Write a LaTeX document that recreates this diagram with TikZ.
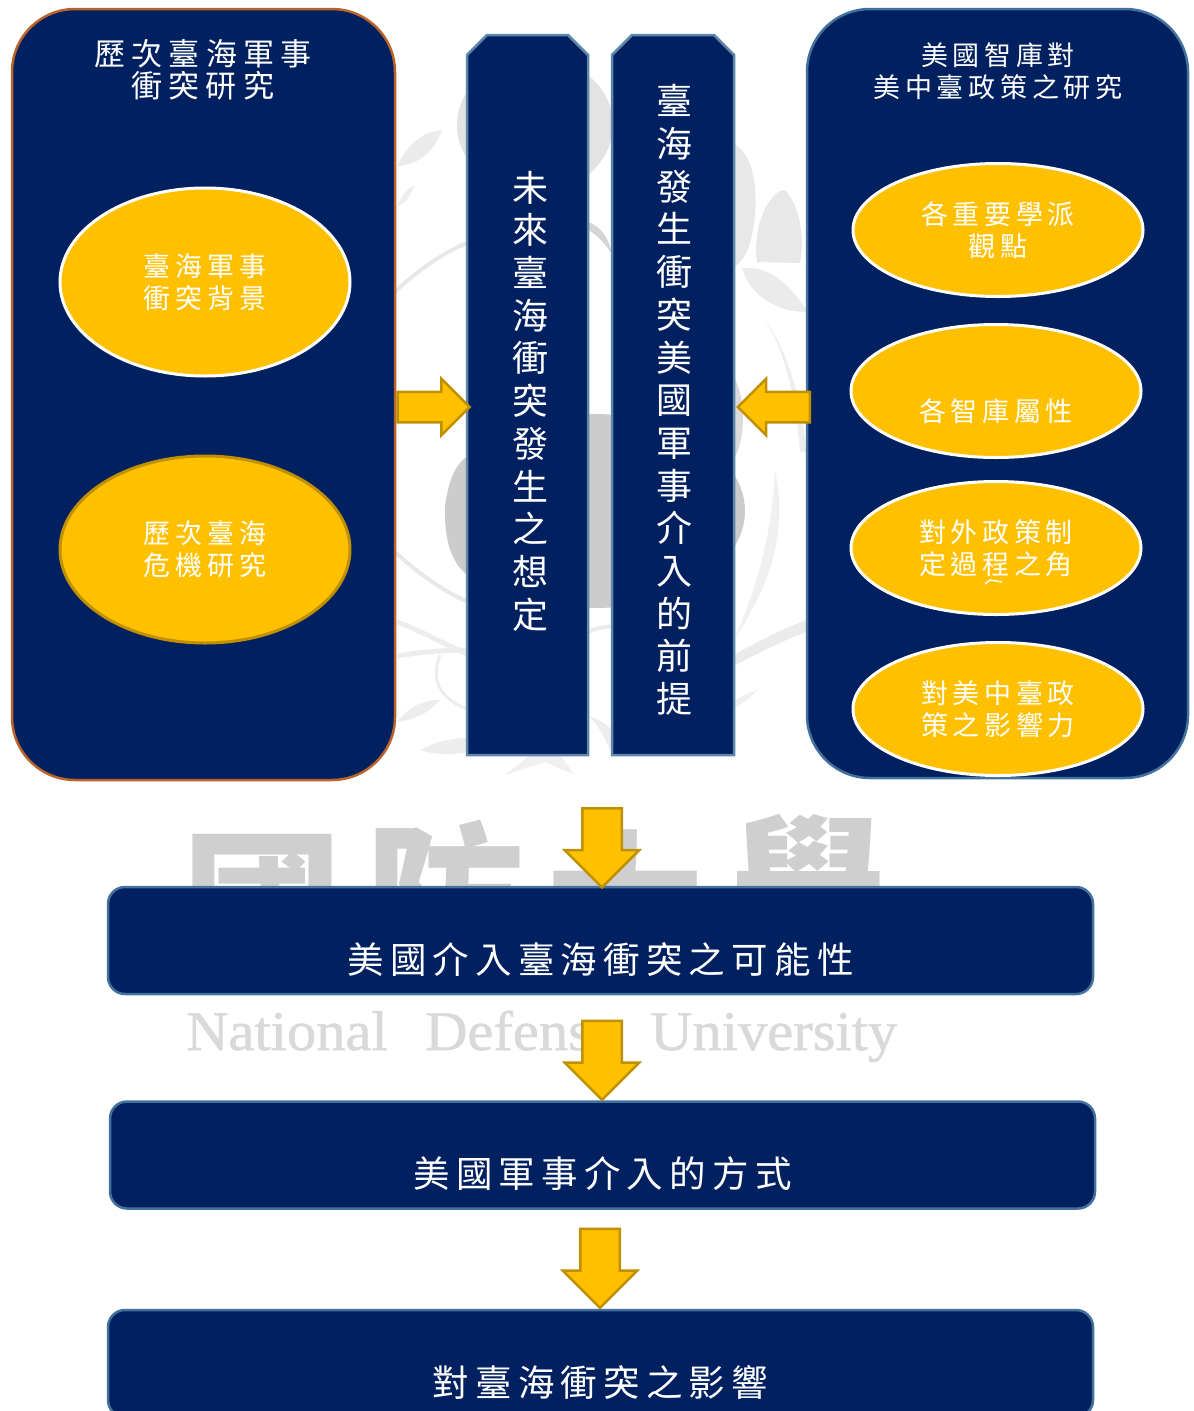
\documentclass[tikz,border=0pt]{standalone}
\usepackage{fontspec}
\setmainfont{Liberation Serif}
\newfontfamily\cjk{Noto Sans CJK TC}
\usetikzlibrary{shapes.geometric,shapes.arrows}
\definecolor{navy}{HTML}{002060}
\definecolor{gold}{HTML}{FFC000}
\definecolor{goldedge}{HTML}{BF9000}
\definecolor{steel}{HTML}{41719C}
\definecolor{rust}{HTML}{B8642C}
\tikzset{
  bigbox/.style={draw=steel,fill=navy,line width=2.5pt,rounded corners=63pt,inner sep=0pt,minimum width=381pt,minimum height=769pt},
  bar/.style={draw=steel,fill=navy,line width=2.5pt,rounded corners=17pt,inner sep=0pt,minimum width=985pt,minimum height=107pt,
     text=white,align=center,font=\cjk\fontsize{36.5}{42}\selectfont\addfontfeature{LetterSpace=17}},
  oval/.style={ellipse,draw=white,fill=gold,line width=3pt,inner sep=0pt,minimum width=290pt,minimum height=133pt,
     text=white,align=center,font=\cjk\fontsize{27}{32}\selectfont\addfontfeature{LetterSpace=17.5}},
  title/.style={text=white,align=center,inner sep=0pt,font=\cjk\fontsize{27}{32}\selectfont\addfontfeature{LetterSpace=17.5}},
  column/.style={draw=steel!85!white,fill=navy,line width=2.5pt,line join=miter},
  vtext/.style={text=white,align=center,inner sep=0pt,font=\cjk\fontsize{36}{42.7}\selectfont},
  downarrow/.style={single arrow,draw=goldedge,fill=gold,line width=2.5pt,rotate=-90,inner sep=0pt,
     minimum width=72pt,minimum height=79pt,single arrow head extend=17.5pt},
  sidearrow/.style={single arrow,draw=goldedge,fill=gold,line width=2.5pt,inner sep=0pt,
     minimum width=54pt,minimum height=72pt,single arrow head extend=13pt},
  wmbig/.style={text=black!19,inner sep=0pt,font=\cjk\bfseries\fontsize{160}{160}\selectfont},
  wmtext/.style={text=black!15,inner sep=0pt,anchor=base west,xscale=1.045,font=\fontsize{56}{56}\selectfont\addfontfeature{FakeBold=1}},
}
\begin{document}
\begin{tikzpicture}[x=1pt,y=-1pt]
\useasboundingbox (0,0) rectangle (1194,1411);
\clip (0,0) rectangle (1194,1411);
% watermark emblem
\fill[black!11] (535,125) ellipse [x radius=78, y radius=68];
\fill[black!8] (397,166) .. controls (410,140) and (425,132) .. (442,130) .. controls (435,150) and (420,165) .. (397,166) -- cycle;
\fill[black!7] (397,206) .. controls (402,195) and (408,188) .. (414,186) .. controls (410,197) and (405,204) .. (397,206) -- cycle;
\draw[black!9,line width=4pt] (395,292) .. controls (420,268) and (445,252) .. (467,243);
\fill[black!17] (588,222) .. controls (600,226) and (608,236) .. (612,254) .. controls (604,242) and (596,234) .. (588,230) -- cycle;
\fill[black!20] (595,511) ellipse [x radius=150, y radius=97];
\fill[black!20] (445,518) .. controls (446,480) and (456,460) .. (475,452) -- (475,580) .. controls (456,570) and (446,550) .. (445,518) -- cycle;
\fill[black!14] (715,418) ellipse [x radius=28, y radius=56];
\draw[black!9,line width=4pt] (395,552) .. controls (420,575) and (445,592) .. (470,603);
\fill[black!9] (732,143) .. controls (750,150) and (758,180) .. (755,215) .. controls (752,245) and (745,262) .. (732,268) -- cycle;
\fill[black!9] (757,262) .. controls (752,225) and (770,190) .. (785,190) .. controls (800,205) and (805,240) .. (800,263) -- cycle;
\fill[black!8] (742,268) .. controls (770,265) and (790,285) .. (808,312) .. controls (775,312) and (750,295) .. (742,268) -- cycle;
\fill[black!7] (765,320) .. controls (785,345) and (803,400) .. (806,452) -- (800,452) .. controls (796,400) and (785,350) .. (765,320) -- cycle;
\fill[black!6] (775,470) .. controls (785,520) and (780,570) .. (734,640) .. controls (760,580) and (772,530) .. (775,470) -- cycle;
\fill[black!8] (734,655) .. controls (760,640) and (785,628) .. (806,620) -- (806,632) .. controls (785,640) and (760,652) .. (734,666) -- cycle;
\fill[black!6] (734,700) .. controls (745,695) and (750,692) .. (757,690) .. controls (750,698) and (745,702) .. (734,708) -- cycle;
\draw[black!7,line width=5pt] (397,622) .. controls (420,630) and (445,645) .. (470,655);
\draw[black!7,line width=5pt] (397,656) .. controls (420,652) and (445,650) .. (470,650);
\draw[black!7,line width=3pt] (440,655) .. controls (430,680) and (440,700) .. (470,710);
\fill[black!7] (397,722) .. controls (410,705) and (425,700) .. (440,700) .. controls (430,712) and (415,720) .. (397,722) -- cycle;
\fill[black!7] (420,750) .. controls (435,742) and (450,738) .. (470,738) -- (470,752) .. controls (450,755) and (435,755) .. (420,750) -- cycle;
\draw[black!8,line width=4pt] (588,632) .. controls (595,628) and (605,627) .. (612,626);
\fill[black!7] (588,716) .. controls (596,722) and (604,735) .. (612,755) -- (612,730) .. controls (604,722) and (596,718) .. (588,716) -- cycle;
\fill[black!6] (505,775) -- (530,755) -- (560,755) -- (575,775) -- (545,762) -- cycle;
% watermark lettering
\node[wmbig] (wm1) at (262,907) {國};
\node[wmbig] (wm2) at (445,897) {防};
\node[wmbig] (wm3) at (625,905) {大};
\node[wmbig] (wm4) at (808,890) {學};
\node[wmtext] (wm5) at (186,1050) {National};
\node[wmtext] (wm6) at (425,1050) {Defense};
\node[wmtext] (wm7) at (650,1050) {University};
% left panel
\node[bigbox,draw=rust,minimum width=383pt,minimum height=771pt] (left) at (203.5,394.5) {};
\node[title,font=\cjk\fontsize{31}{32}\selectfont\addfontfeature{LetterSpace=19.5}] (lefttitle) at (203,69.5) {歷次臺海軍事\\衝突研究};
\node[oval,minimum height=188pt] (l1) at (205,282) {臺海軍事\\衝突背景};
\node[oval,draw=goldedge,minimum height=187pt] (l2) at (205,549.5) {歷次臺海\\危機研究};
% right panel
\node[bigbox] (right) at (997.5,393.5) {};
\node[title] (righttitle) at (998,71) {美國智庫對\\美中臺政策之研究};
\node[oval] (r1) at (998,230) {各重要學派\\觀點};
\node[oval] (r2) at (996,391) {\rule{0pt}{24pt}\\[8pt]各智庫屬性};
\node[oval] (r3) at (996,548) {對外政策制\\定過程之角};
\draw[white,line width=1.5pt] (985,584) -- (990,580) -- (1002,582);
\node[oval] (r4) at (998,709) {對美中臺政\\策之影響力};
% middle columns
\draw[column] (467,755) -- (467,55) -- (487,35) -- (568,35) -- (588,55) -- (588,755) -- cycle;
\draw[column] (612,755) -- (612,55) -- (632,35) -- (714,35) -- (734,55) -- (734,755) -- cycle;
\node[vtext] (c1) at (530,401) {未\\來\\臺\\海\\衝\\突\\發\\生\\之\\想\\定};
\node[vtext] (c2) at (674,400) {臺\\海\\發\\生\\衝\\突\\美\\國\\軍\\事\\介\\入\\的\\前\\提};
% bars
\node[bar] (b1) at (600.5,940.5) {\rule{0pt}{27pt}\\美國介入臺海衝突之可能性};
\node[bar] (b2) at (602.5,1155) {\rule{0pt}{27pt}\\美國軍事介入的方式};
\node[bar] (b3) at (600.5,1363.5) {\rule{0pt}{27pt}\\對臺海衝突之影響};
% block arrows
\node[sidearrow] (a1) at (426,407) {\rule{0pt}{28pt}};
\node[sidearrow,rotate=180] (a2) at (781.5,407) {\rule{0pt}{28pt}};
\node[downarrow] (a3) at (602,838) {\rule{0pt}{37pt}};
\node[downarrow] (a4) at (602,1050.5) {\rule{0pt}{37pt}};
\node[downarrow] (a5) at (600,1258.5) {\rule{0pt}{37pt}};
\end{tikzpicture}
\end{document}
